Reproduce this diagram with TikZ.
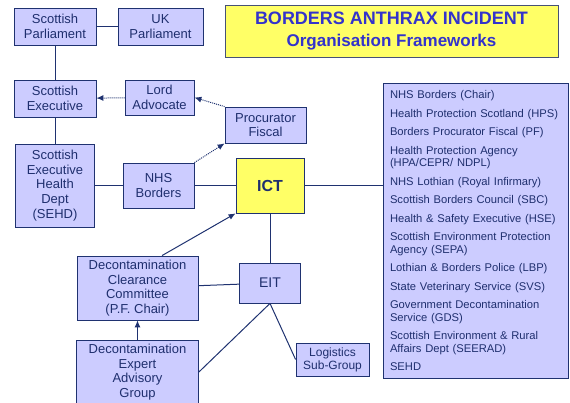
\documentclass[tikz,border=0pt]{standalone}
\usepackage{fontspec}
\setmainfont{Liberation Sans}
\usetikzlibrary{arrows.meta}

\definecolor{lilla}{HTML}{CCCCFF}
\definecolor{giallo}{HTML}{FFFF66}
\definecolor{blu}{HTML}{1F3270}
\definecolor{testo}{HTML}{1F2F6E}
\definecolor{titolo}{HTML}{3333CC}

\begin{document}
\begin{tikzpicture}[x=1pt, y=-1pt,
    box/.style={draw=blu, fill=lilla, text=testo, line width=0.8pt, align=center, inner sep=0pt,
        font=\fontsize{13}{14.7}\selectfont},
    linea/.style={blu, line width=1pt},
    freccia/.style={linea, -{Latex[length=7pt, width=6pt]}},
    puntini/.style={freccia, densely dotted}]
    \useasboundingbox (0,0) rectangle (570,403);
    %titolo
    \node[draw=blu!60!gray, fill=giallo, line width=0.8pt, text=titolo, align=center,
        minimum width=333, minimum height=52, font=\bfseries\fontsize{17}{21.5}\selectfont]
        (titolo) at (391.5,31) {{\fontsize{18}{21.5}\selectfont BORDERS ANTHRAX INCIDENT}\\Organisation Frameworks};
    %riquadri a sinistra
    \node[box, minimum width=82, minimum height=37] (sp) at (55,26.5) {Scottish\\Parliament};
    \node[box, minimum width=85, minimum height=37] (ukp) at (160.5,26.5) {UK\\Parliament};
    \node[box, minimum width=82, minimum height=37] (se) at (55,98.5) {Scottish\\Executive};
    \node[box, minimum width=69, minimum height=35] (la) at (159.5,97.5) {Lord\\Advocate};
    \node[box, minimum width=81, minimum height=36] (pf) at (265.5,125) {Procurator\\Fiscal};
    \node[box, minimum width=79, minimum height=83] (sehd) at (55,185.5) {Scottish\\Executive\\Health\\Dept\\(SEHD)};
    \node[box, minimum width=71, minimum height=45] (nhs) at (158.5,185.5) {NHS\\Borders};
    \node[box, fill=giallo, minimum width=68, minimum height=55, font=\bfseries\fontsize{16}{18}\selectfont] (ict) at (270,185.5) {ICT};
    \node[box, minimum width=121, minimum height=64] (dcc) at (137.5,288) {Decontamination\\Clearance\\Committee\\(P.F. Chair)};
    \node[box, minimum width=61, minimum height=40, font=\fontsize{14}{16}\selectfont] (eit) at (270,283) {EIT};
    \node[box, minimum width=122, minimum height=64] (deag) at (137.5,372) {Decontamination\\Expert\\Advisory\\Group};
    \node[box, minimum width=73, minimum height=33, font=\fontsize{12}{13}\selectfont] (log) at (332.5,359.5) {Logistics\\Sub-Group};
    %elenco dei membri
    \node[box, align=left, inner xsep=7pt, text width=171pt, minimum height=295,
        font=\fontsize{11.2}{12.5}\selectfont] (enti) at (475.5,230.5) {%
        NHS Borders (Chair)\\[6pt]
        Health Protection Scotland (HPS)\\[6pt]
        Borders Procurator Fiscal (PF)\\[6pt]
        Health Protection Agency\\(HPA/CEPR/ NDPL)\\[6pt]
        NHS Lothian (Royal Infirmary)\\[6pt]
        Scottish Borders Council (SBC)\\[6pt]
        Health \& Safety Executive (HSE)\\[6pt]
        Scottish Environment Protection\\Agency (SEPA)\\[6pt]
        Lothian \& Borders Police (LBP)\\[6pt]
        State Veterinary Service (SVS)\\[6pt]
        Government Decontamination\\Service (GDS)\\[6pt]
        Scottish Environment \& Rural\\Affairs Dept (SEERAD)\\[6pt]
        SEHD};
    %collegamenti
    \draw[linea] (sp) -- (ukp);
    \draw[linea] (sp) -- (se);
    \draw[linea] (se) -- (sehd);
    \draw[linea] (sehd) -- (nhs);
    \draw[linea] (nhs) -- (ict);
    \draw[linea] (ict.east) -- (ict.east -| enti.west);
    \draw[linea] (ict) -- (eit);
    \draw[linea] (dcc) -- (eit);
    \draw[linea] (eit.south) -- (deag.east);
    \draw[linea] (eit.south) -- (log.west);
    %frecce
    \draw[freccia] ([xshift=24.5pt]dcc.north) -- (ict.south west);
    \draw[freccia] (deag) -- (dcc);
    \draw[puntini] (la) -- (se);
    \draw[puntini] (pf.north west) -- (la.east);
    \draw[puntini] (nhs.north east) -- (pf.south west);
\end{tikzpicture}
\end{document}
